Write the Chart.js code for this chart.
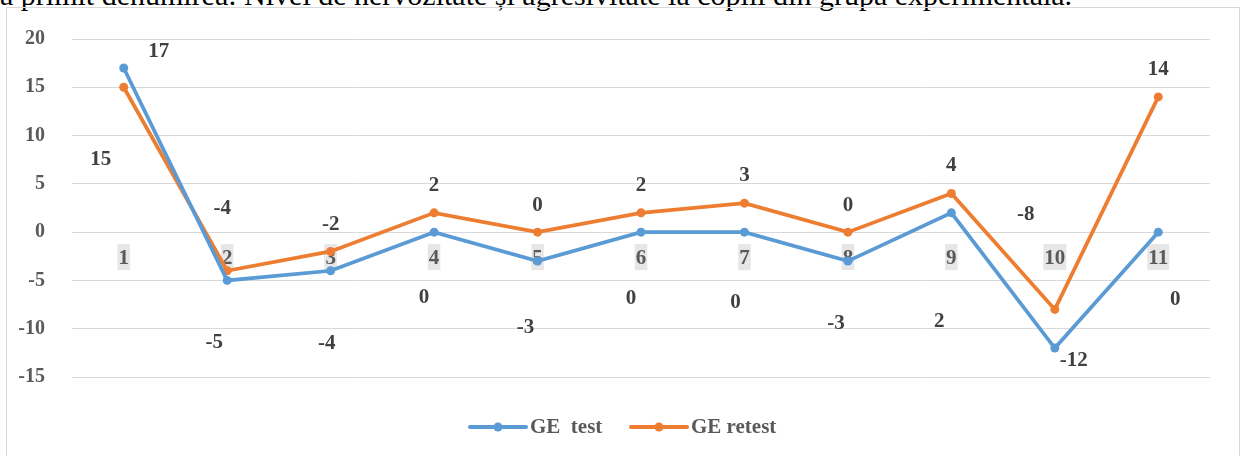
<!DOCTYPE html>
<html>
<head>
<meta charset="utf-8">
<script src="https://cdn.jsdelivr.net/npm/chart.js@4/dist/chart.umd.min.js"></script>
<style>
  html, body { margin: 0; padding: 0; background: #fff; overflow: hidden; }
  #wrap { position: relative; width: 1241px; height: 456px; }
  #caption {
    position: absolute; left: 0; top: -22px; line-height: 30px;
    font: 30px 'Liberation Serif', 'Times New Roman', serif; color: #000;
    white-space: nowrap;
  }
  #frame {
    position: absolute; left: 6px; top: 7px; width: 1232px; height: 470px;
    border: 1px solid #d9d9d9;
  }
  canvas { position: absolute; left: 0; top: 0; }
</style>
</head>
<body>
<div id="wrap">
  <div id="caption">a primit denumirea: Nivel de nervozitate și agresivitate la copiii din grupa experimentală.</div>
  <div id="frame"></div>
  <canvas id="chart1" width="1241" height="456"></canvas>
</div>
<script>
// date
const categories = ['1', '2', '3', '4', '5', '6', '7', '8', '9', '10', '11'];
const geTest = [17, -5, -4, 0, -3, 0, 0, -3, 2, -12, 0];
const geRetest = [15, -4, -2, 2, 0, 2, 3, 0, 4, -8, 14];
const seriesNames = ['GE  test', 'GE retest'];

// deplasarea etichetelor fata de puncte (asa cum le-a pus Excel)
const testLabelShift = [[35, -16], [-13, 62], [-4, 73], [-10, 65], [-12, 66], [-10, 66], [-9, 70], [-12, 62], [-12, 109], [19, 13], [17, 67]];
const retestLabelShift = [[-23, 72], [-5, -62], [0, -27], [0, -27], [0, -27], [0, -27], [0, -28], [0, -27], [0, -28], [-29, -95], [0, -27]];

const BLUE = '#5b9bd5';
const ORANGE = '#ed7d31';
const SERIF = "'Liberation Serif', 'Times New Roman', serif";

const extraDraw = {
  id: 'extraDraw',
  beforeDatasetsDraw(chart) {
    // etichetele categoriilor, langa axa 0
    const ctx = chart.ctx;
    const xs = chart.scales.x, ys = chart.scales.y;
    const y0 = ys.getPixelForValue(0) + 25;
    ctx.save();
    ctx.font = 'bold 21px ' + SERIF;
    ctx.textAlign = 'center';
    ctx.textBaseline = 'middle';
    categories.forEach((c, i) => {
      const x = xs.getPixelForValue(i);
      const w = ctx.measureText(c).width;
      ctx.fillStyle = '#e7e6e6';
      ctx.fillRect(x - w / 2 - 1, y0 - 13, w + 2, 26);
      ctx.fillStyle = '#595959';
      ctx.fillText(c, x, y0 + 1);
    });
    ctx.restore();
  },
  afterDatasetsDraw(chart) {
    const ctx = chart.ctx;
    const shifts = [testLabelShift, retestLabelShift];
    ctx.save();
    ctx.font = 'bold 21px ' + SERIF;
    ctx.textAlign = 'center';
    ctx.textBaseline = 'middle';
    ctx.fillStyle = '#404040';
    chart.data.datasets.forEach((ds, d) => {
      chart.getDatasetMeta(d).data.forEach((pt, i) => {
        const s = shifts[d][i];
        ctx.fillText(String(ds.data[i]), pt.x + s[0], pt.y + s[1]);
      });
    });

    // legenda
    const ly = 427;
    const items = [{ x: 470, c: BLUE, t: seriesNames[0] }, { x: 631, c: ORANGE, t: seriesNames[1] }];
    items.forEach(it => {
      ctx.strokeStyle = it.c;
      ctx.lineWidth = 4;
      ctx.lineCap = 'round';
      ctx.beginPath();
      ctx.moveTo(it.x, ly);
      ctx.lineTo(it.x + 56, ly);
      ctx.stroke();
      ctx.fillStyle = it.c;
      ctx.beginPath();
      ctx.arc(it.x + 28, ly, 4.5, 0, Math.PI * 2);
      ctx.fill();
      ctx.fillStyle = '#595959';
      ctx.textAlign = 'left';
      ctx.fillText(it.t, it.x + 60, ly + 1);
    });
    ctx.restore();
  }
};

const data = {
  labels: categories,
  datasets: [{
    label: seriesNames[0],
    data: geTest,
    borderColor: BLUE,
    backgroundColor: BLUE,
    borderWidth: 3.75,
    pointRadius: 4.5,
    pointBorderWidth: 0,
    tension: 0
  }, {
    label: seriesNames[1],
    data: geRetest,
    borderColor: ORANGE,
    backgroundColor: ORANGE,
    borderWidth: 3.75,
    pointRadius: 4.5,
    pointBorderWidth: 0,
    tension: 0
  }]
};

const config = {
  type: 'line',
  data: data,
  options: {
    responsive: false,
    animation: false,
    layout: { padding: { left: 0, right: 31, top: 35, bottom: 79 } },
    plugins: {
      legend: { display: false },
      tooltip: { enabled: false }
    },
    scales: {
      x: {
        display: false,
        offset: true
      },
      y: {
        min: -15,
        max: 20,
        ticks: {
          stepSize: 5,
          padding: 27,
          color: '#595959',
          font: { family: SERIF, size: 20, weight: 'bold' }
        },
        grid: { color: '#d9d9d9', lineWidth: 1, drawTicks: false },
        border: { display: false },
        afterFit(scale) { scale.width = 72; }
      }
    }
  },
  plugins: [extraDraw]
};

const myChart = new Chart(document.getElementById('chart1'), config);
</script>
</body>
</html>
